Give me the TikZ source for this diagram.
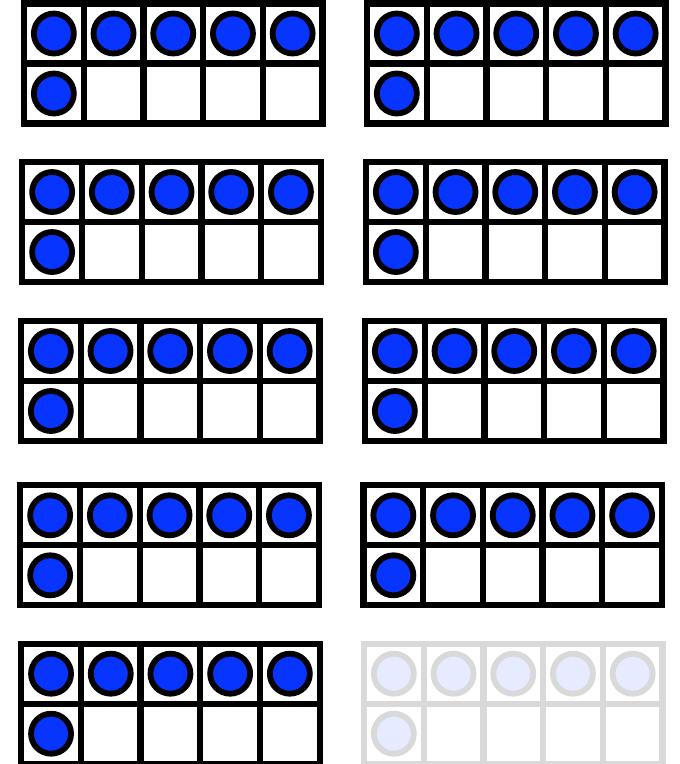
\documentclass[tikz,border=0pt]{standalone}
\definecolor{dotblue}{RGB}{8,52,255}
\definecolor{fadeline}{RGB}{217,217,217}
\definecolor{fadefill}{RGB}{230,235,255}
\tikzset{
  gridline/.style={line width=6.3pt, line cap=rect},
  counter/.style={line width=5.8pt, fill=dotblue, draw=black},
  fadegrid/.style={line width=6.3pt, line cap=rect, draw=fadeline},
  fadecounter/.style={line width=5.8pt, fill=fadefill, draw=fadeline}
}
\newcommand{\tenframe}[4]{%
  % #1 x, #2 y (top-left line centre), #3 grid style, #4 counter style
  \begin{scope}[shift={(#1,#2)}]
    \fill[white] (0,0) rectangle (298.5,120);
    \draw[#3] (0,0) rectangle (298.5,120);
    \draw[#3] (0,60) -- (298.5,60);
    \foreach \i in {1,...,4} \draw[#3] (\i*59.7,0) -- (\i*59.7,120);
    \foreach \i in {0,...,4} \draw[#4] (\i*59.7+29.85,30) circle (20);
    \draw[#4] (29.85,90) circle (20);
  \end{scope}}
\begin{document}
\begin{tikzpicture}[x=1pt,y=-1pt]
\useasboundingbox (0,0) rectangle (680,764);
\tenframe{24}{3.5}{gridline}{counter}
\tenframe{367}{3.5}{gridline}{counter}
\tenframe{22.3}{162}{gridline}{counter}
\tenframe{366}{162}{gridline}{counter}
\tenframe{21}{321}{gridline}{counter}
\tenframe{365}{321}{gridline}{counter}
\tenframe{20.3}{485.3}{gridline}{counter}
\tenframe{363.5}{485.3}{gridline}{counter}
\tenframe{21.2}{643.7}{gridline}{counter}
\tenframe{364}{643.7}{fadegrid}{fadecounter}
\end{tikzpicture}
\end{document}
